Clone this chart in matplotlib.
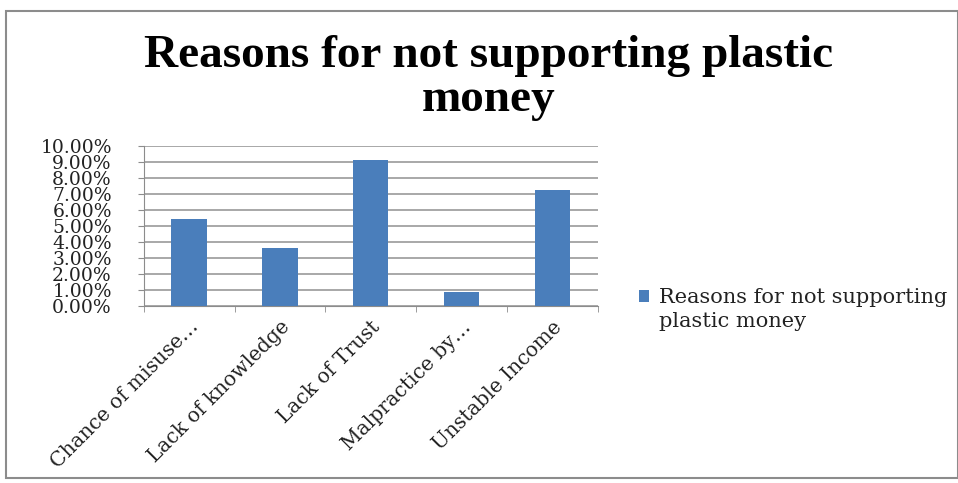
import numpy as np
import matplotlib.pyplot as plt
from matplotlib.patches import Rectangle
from matplotlib.legend_handler import HandlerPatch
from matplotlib.ticker import FuncFormatter, MultipleLocator

categories = ["Chance of misuse…", "Lack of knowledge", "Lack of Trust",
              "Malpractice by…", "Unstable Income"]
values = [5.45, 3.64, 9.09, 0.91, 7.27]  # percent
series_name = "Reasons for not supporting\nplastic money"
title = "Reasons for not supporting plastic\nmoney"

plt.rcParams['font.family'] = ['DejaVu Serif']

fig = plt.figure(figsize=(9.58, 4.83), dpi=100)
ax = fig.add_axes([0.150, 0.366, 0.474, 0.332])

x = np.arange(len(categories))
bars = ax.bar(x, values, width=0.39, color='#4a7ebb', zorder=3)

ax.set_xlim(-0.5, len(categories) - 0.5)
ax.set_ylim(0, 10)
ax.yaxis.set_major_locator(MultipleLocator(1))
ax.yaxis.set_major_formatter(FuncFormatter(lambda v, p: f"{v:.2f}%"))
ax.grid(axis='y', color='#9a9a9a', linewidth=1.2, zorder=0)

ax.set_xticks(x)
ax.set_xticklabels(categories, rotation=45, ha='right', rotation_mode='anchor',
                   fontsize=14.5, color='#222222')
ax.set_xticks(np.arange(-0.5, len(categories)), minor=True)
ax.tick_params(axis='x', which='major', length=0, pad=8)
ax.tick_params(axis='x', which='minor', length=4, color='#8c8c8c')
ax.tick_params(axis='y', length=4, color='#8c8c8c', labelsize=13.5, pad=19,
               labelcolor='#222222')
for s in ['top', 'right']:
    ax.spines[s].set_visible(False)
ax.spines['left'].set_color('#8c8c8c')
ax.spines['bottom'].set_color('#8c8c8c')

fig.text(0.510, 0.838, title, ha='center', va='center', fontsize=34,
         fontweight='bold', linespacing=1.05, family='Liberation Serif')


# legend marker sits beside the first line of the label
def first_line_patch(legend, orig_handle, xdescent, ydescent, width, height, fontsize):
    return Rectangle((-xdescent, -ydescent + 9.5), width, height)


leg = ax.legend(handles=[bars.patches[0]], labels=[series_name],
                loc='center left', bbox_to_anchor=(1.09, -0.02), frameon=False,
                fontsize=15, handlelength=0.5, handleheight=0.5,
                handletextpad=0.5, borderaxespad=0, borderpad=0,
                handler_map={Rectangle: HandlerPatch(patch_func=first_line_patch)})
for t in leg.get_texts():
    t.set_linespacing(1.35)
    t.set_color('#222222')

fig.patches.append(Rectangle((0.006, 0.01), 0.994, 0.968, transform=fig.transFigure,
                             fill=False, edgecolor='#8c8c8c', linewidth=1.5))

fig.savefig('out.png', dpi=100)
